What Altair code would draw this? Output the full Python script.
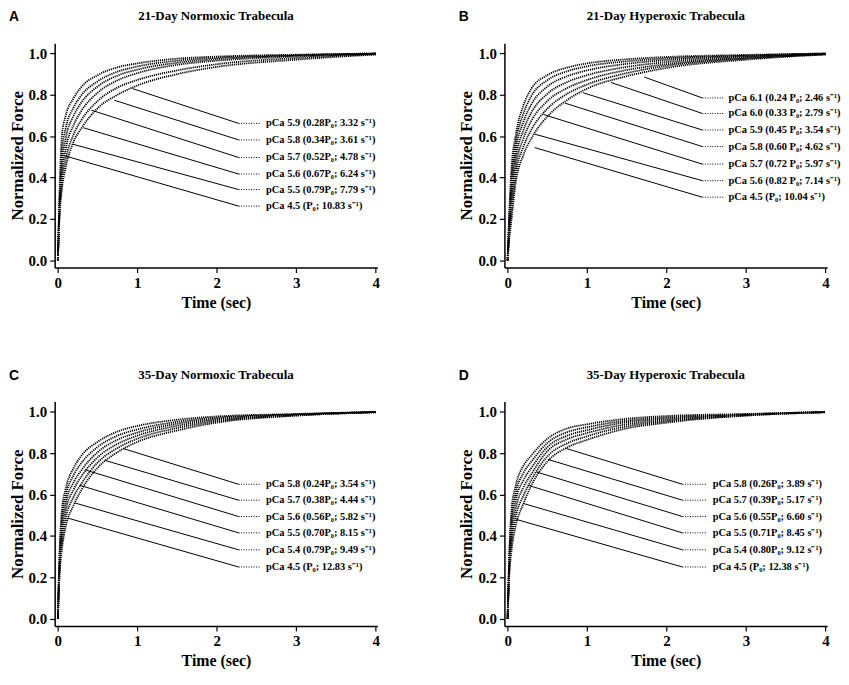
import altair as alt
import pandas as pd

SERIF = "Liberation Serif"
SANS = "Liberation Sans"

T = [0, 0.02, 0.05, 0.1, 0.2, 0.3, 0.5, 0.75, 1.0, 1.5, 2.0, 3.0, 4.0]

# ---------------- Panel A: 21-Day Normoxic ----------------
A_CURVES = {
    "4.5": [0, 0.30, 0.60, 0.70, 0.785, 0.84, 0.895, 0.933, 0.952, 0.975, 0.985, 0.994, 1.0],
    "5.5": [0, 0.28, 0.52, 0.64, 0.74, 0.80, 0.865, 0.912, 0.937, 0.965, 0.98, 0.992, 1.0],
    "5.6": [0, 0.26, 0.46, 0.59, 0.70, 0.765, 0.84, 0.893, 0.922, 0.955, 0.973, 0.99, 0.999],
    "5.7": [0, 0.24, 0.41, 0.54, 0.655, 0.725, 0.81, 0.87, 0.905, 0.945, 0.965, 0.986, 0.998],
    "5.8": [0, 0.22, 0.37, 0.49, 0.61, 0.68, 0.77, 0.835, 0.872, 0.918, 0.948, 0.978, 0.996],
    "5.9": [0, 0.20, 0.34, 0.45, 0.575, 0.64, 0.735, 0.80, 0.845, 0.90, 0.935, 0.97, 0.995],
}
A_LABELS = ["pCa 5.9 (0.28P₀; 3.32 s⁻¹)", "pCa 5.8 (0.34P₀; 3.61 s⁻¹)", "pCa 5.7 (0.52P₀; 4.78 s⁻¹)",
            "pCa 5.6 (0.67P₀; 6.24 s⁻¹)", "pCa 5.5 (0.79P₀; 7.79 s⁻¹)", "pCa 4.5 (P₀; 10.83 s⁻¹)"]
A_START_T = [0.94, 0.71, 0.42, 0.32, 0.19, 0.07]
A_START_F = [0.83, 0.774, 0.726, 0.641, 0.561, 0.507]
A_ROWS = [0.662, 0.582, 0.497, 0.417, 0.342, 0.262]

# ---------------- Panel B: 21-Day Hyperoxic ----------------
B_CURVES = {
    "4.5": [0, 0.22, 0.45, 0.60, 0.75, 0.83, 0.895, 0.932, 0.952, 0.972, 0.983, 0.993, 1.0],
    "5.6": [0, 0.20, 0.41, 0.565, 0.71, 0.795, 0.871, 0.914, 0.938, 0.962, 0.976, 0.99, 1.0],
    "5.7": [0, 0.18, 0.37, 0.53, 0.67, 0.755, 0.84, 0.89, 0.918, 0.95, 0.968, 0.987, 0.999],
    "5.8": [0, 0.16, 0.33, 0.49, 0.63, 0.715, 0.805, 0.862, 0.895, 0.935, 0.958, 0.983, 0.998],
    "5.9": [0, 0.14, 0.29, 0.45, 0.59, 0.675, 0.77, 0.833, 0.872, 0.92, 0.948, 0.979, 0.997],
    "6.0": [0, 0.12, 0.245, 0.41, 0.55, 0.632, 0.733, 0.805, 0.85, 0.905, 0.94, 0.975, 0.996],
    "6.1": [0, 0.10, 0.20, 0.37, 0.51, 0.59, 0.695, 0.775, 0.83, 0.89, 0.93, 0.97, 0.995],
}
B_LABELS = ["pCa 6.1 (0.24 P₀; 2.46 s⁻¹)", "pCa 6.0 (0.33 P₀; 2.79 s⁻¹)", "pCa 5.9 (0.45 P₀; 3.54 s⁻¹)",
            "pCa 5.8 (0.60 P₀; 4.62 s⁻¹)", "pCa 5.7 (0.72 P₀; 5.97 s⁻¹)", "pCa 5.6 (0.82 P₀; 7.14 s⁻¹)",
            "pCa 4.5 (P₀; 10.04 s⁻¹)"]
B_START_T = [1.72, 1.30, 0.95, 0.72, 0.45, 0.34, 0.34]
B_START_F = [0.886, 0.86, 0.81, 0.76, 0.705, 0.61, 0.545]
B_ROWS = [0.785, 0.71, 0.63, 0.55, 0.465, 0.385, 0.305]

# ---------------- Panel C: 35-Day Normoxic ----------------
C_CURVES = {
    "4.5": [0, 0.30, 0.52, 0.63, 0.73, 0.79, 0.855, 0.905, 0.932, 0.962, 0.978, 0.99, 1.0],
    "5.4": [0, 0.28, 0.48, 0.595, 0.695, 0.755, 0.83, 0.885, 0.915, 0.952, 0.972, 0.988, 1.0],
    "5.5": [0, 0.26, 0.44, 0.56, 0.66, 0.72, 0.805, 0.865, 0.90, 0.943, 0.966, 0.987, 0.999],
    "5.6": [0, 0.24, 0.40, 0.525, 0.625, 0.69, 0.78, 0.845, 0.885, 0.933, 0.96, 0.985, 0.999],
    "5.7": [0, 0.22, 0.36, 0.485, 0.59, 0.655, 0.755, 0.825, 0.87, 0.922, 0.954, 0.983, 0.998],
    "5.8": [0, 0.20, 0.33, 0.445, 0.55, 0.625, 0.73, 0.805, 0.855, 0.91, 0.948, 0.982, 0.998],
}
C_LABELS = ["pCa 5.8 (0.24P₀; 3.54 s⁻¹)", "pCa 5.7 (0.38P₀; 4.44 s⁻¹)", "pCa 5.6 (0.56P₀; 5.82 s⁻¹)",
            "pCa 5.5 (0.70P₀; 8.15 s⁻¹)", "pCa 5.4 (0.79P₀; 9.49 s⁻¹)", "pCa 4.5 (P₀; 12.83 s⁻¹)"]
C_START_T = [0.82, 0.59, 0.34, 0.275, 0.21, 0.13]
C_START_F = [0.823, 0.766, 0.72, 0.645, 0.56, 0.486]
C_ROWS = [0.65, 0.573, 0.494, 0.415, 0.333, 0.25]

# ---------------- Panel D: 35-Day Hyperoxic ----------------
D_CURVES = {
    "4.5": [0, 0.30, 0.53, 0.64, 0.74, 0.79, 0.87, 0.92, 0.94, 0.967, 0.98, 0.99, 1.0],
    "5.4": [0, 0.28, 0.49, 0.605, 0.705, 0.76, 0.85, 0.902, 0.926, 0.958, 0.973, 0.988, 1.0],
    "5.5": [0, 0.26, 0.45, 0.57, 0.67, 0.73, 0.83, 0.885, 0.912, 0.95, 0.967, 0.987, 0.999],
    "5.6": [0, 0.24, 0.41, 0.53, 0.635, 0.70, 0.81, 0.868, 0.898, 0.94, 0.96, 0.985, 0.999],
    "5.7": [0, 0.22, 0.37, 0.49, 0.595, 0.672, 0.785, 0.848, 0.882, 0.93, 0.954, 0.983, 0.998],
    "5.8": [0, 0.20, 0.33, 0.445, 0.557, 0.645, 0.76, 0.828, 0.865, 0.92, 0.948, 0.982, 0.998],
}
D_LABELS = ["pCa 5.8 (0.26P₀; 3.89 s⁻¹)", "pCa 5.7 (0.39P₀; 5.17 s⁻¹)", "pCa 5.6 (0.55P₀; 6.60 s⁻¹)",
            "pCa 5.5 (0.71P₀; 8.45 s⁻¹)", "pCa 5.4 (0.80P₀; 9.12 s⁻¹)", "pCa 4.5 (P₀; 12.38 s⁻¹)"]
D_START_T = [0.74, 0.51, 0.36, 0.26, 0.20, 0.11]
D_START_F = [0.823, 0.77, 0.71, 0.645, 0.557, 0.48]
D_ROWS = [0.65, 0.573, 0.494, 0.415, 0.333, 0.25]

PANELS = [
    ("A", "21-Day Normoxic Trabecula", A_CURVES, A_LABELS, A_START_T, A_START_F, A_ROWS, (2.275, 2.55, 2.62)),
    ("B", "21-Day Hyperoxic Trabecula", B_CURVES, B_LABELS, B_START_T, B_START_F, B_ROWS, (2.45, 2.73, 2.78)),
    ("C", "35-Day Normoxic Trabecula", C_CURVES, C_LABELS, C_START_T, C_START_F, C_ROWS, (2.275, 2.55, 2.62)),
    ("D", "35-Day Hyperoxic Trabecula", D_CURVES, D_LABELS, D_START_T, D_START_F, D_ROWS, (2.20, 2.50, 2.58)),
]

W, H = 325, 226
XS = alt.Scale(domain=[-0.04, 4.02], nice=False, zero=False)
YS = alt.Scale(domain=[-0.035, 1.05], nice=False, zero=False)
XAX = alt.Axis(values=[0, 1, 2, 3, 4], format="d", title="Time (sec)")
YAX = alt.Axis(values=[0, 0.2, 0.4, 0.6, 0.8, 1.0], format=".1f", title="Normalized Force")


def X(f):
    return alt.X(f, type="quantitative", scale=XS, axis=XAX)


def Y(f):
    return alt.Y(f, type="quantitative", scale=YS, axis=YAX)


def panel(letter, title, curves, labels, st, sf, rows, xs):
    elbow, dot_end, text_x = xs
    recs = []
    for name, vals in curves.items():
        for t, f in zip(T, vals):
            recs.append({"curve": name, "t": t, "f": f})
    cdf = pd.DataFrame(recs)
    ldf = pd.DataFrame({
        "label": labels, "t0": st, "f0": sf, "row": rows,
        "te": [elbow] * len(labels), "td": [dot_end] * len(labels), "tx": [text_x] * len(labels),
    })
    lines = alt.Chart(cdf).mark_line(
        interpolate="monotone", color="black", strokeWidth=1.8, strokeDash=[1.2, 0.9]
    ).encode(x=X("t"), y=Y("f"), detail="curve:N")
    leaders = alt.Chart(ldf).mark_rule(color="black", strokeWidth=1).encode(
        x=X("t0"), y=Y("f0"), x2="te", y2="row")
    dots = alt.Chart(ldf).mark_rule(color="black", strokeWidth=1, strokeDash=[1, 1.5]).encode(
        x=X("te"), y=Y("row"), x2="td")
    texts = alt.Chart(ldf).mark_text(
        align="left", baseline="middle", font=SERIF, fontSize=10.5, fontWeight="bold", color="black"
    ).encode(x=X("tx"), y=Y("row"), text="label")
    let = alt.Chart(pd.DataFrame({"s": [letter]})).mark_text(
        align="left", baseline="alphabetic", font=SANS, fontSize=14, fontWeight="bold", color="black"
    ).encode(x=alt.value(-46), y=alt.value(-22), text="s")
    ttl = alt.Chart(pd.DataFrame({"s": [title]})).mark_text(
        align="center", baseline="alphabetic", font=SERIF, fontSize=13, fontWeight="bold", color="black"
    ).encode(x=alt.value(W / 2), y=alt.value(-23), text="s")
    return alt.layer(lines, leaders, dots, texts, let, ttl).properties(width=W, height=H)


charts = [panel(*p) for p in PANELS]
chart = alt.concat(*charts, columns=2, spacing={"row": 135, "column": 128}, bounds="flush").properties(padding=0)

chart = chart.configure_view(stroke=None).configure_axis(
    domainColor="black", domainWidth=1.5, tickColor="black", tickWidth=1.2, tickSize=5,
    labelFont=SERIF, labelFontWeight="bold", labelFontSize=15, labelColor="black",
    titleFont=SERIF, titleFontWeight="bold", titleColor="black", grid=False,
).configure_axisX(titleFontSize=16, labelPadding=3, titlePadding=4).configure_axisY(
    titleFontSize=17, labelPadding=3, titlePadding=2)

chart.save("out.html", embed_options={"renderer": "svg", "actions": False})
